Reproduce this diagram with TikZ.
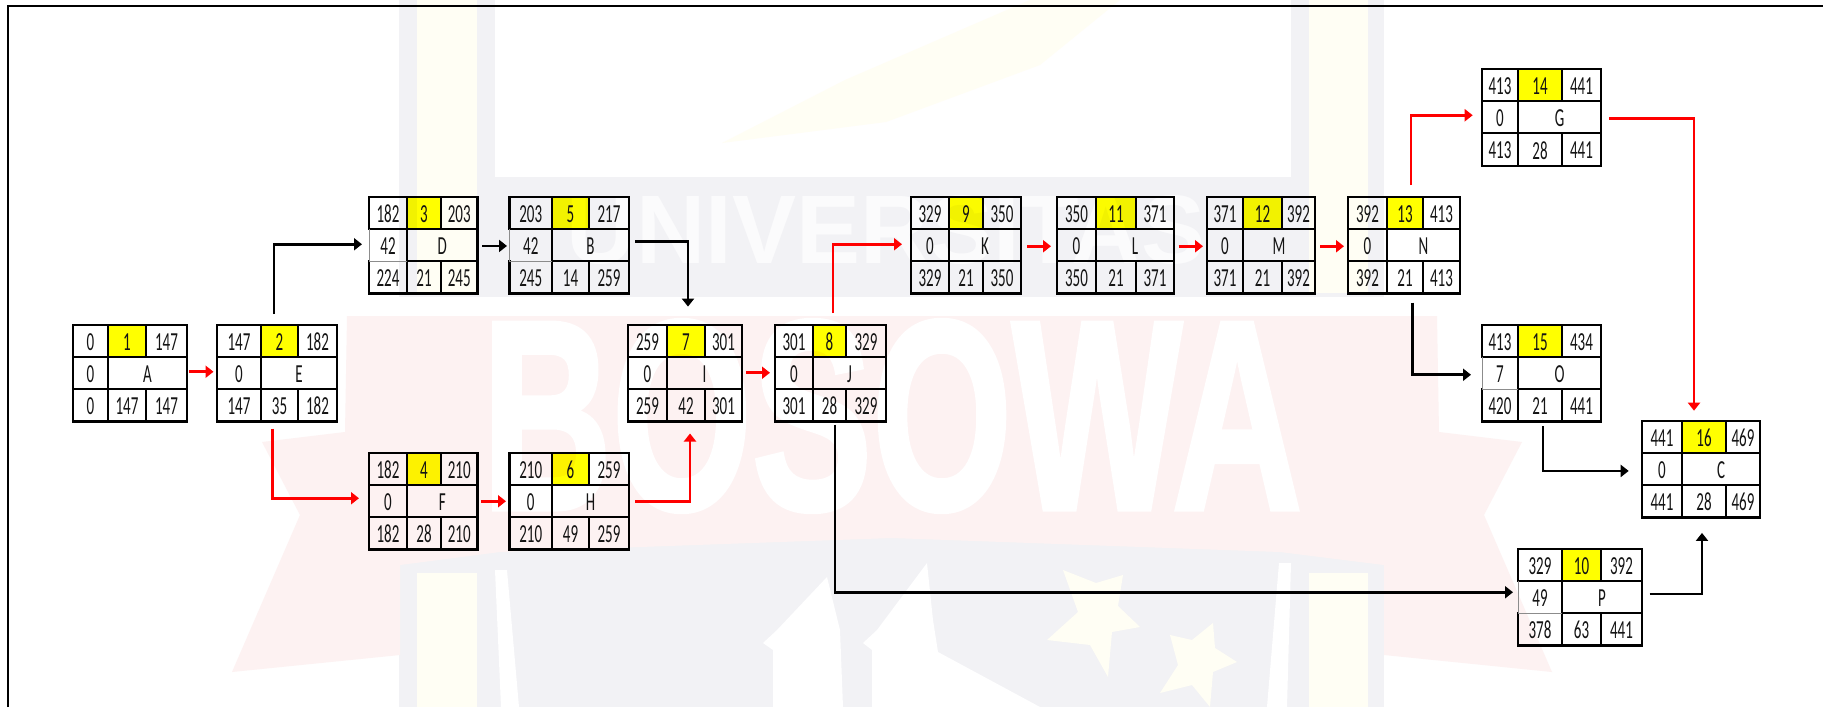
\documentclass[tikz,border=0pt]{standalone}
\usepackage{fontspec}
\setmainfont{Carlito}
\newfontfamily\wmfont[BoldFeatures={FakeBold=2}]{Liberation Sans}
\newfontfamily\wmplain{Liberation Sans Bold}
\usetikzlibrary{arrows.meta,calc}
\definecolor{wmgray}{HTML}{F2F2F5}
\definecolor{wmpink}{HTML}{FDF2F2}
\definecolor{wmyellow}{HTML}{FFFEF4}
\definecolor{wmletter}{HTML}{FBFBFC}
\definecolor{ink}{HTML}{141414}
\definecolor{arrowred}{RGB}{255,0,0}
\definecolor{cellyellow}{RGB}{255,255,0}
\newcommand\celltext[1]{\scalebox{1}[1.733]{#1}}
\tikzset{
  boxframe/.style={rectangle,inner sep=0pt,outer sep=0pt},
  cell/.style={inner sep=0pt,outer sep=0pt,text=ink,font=\fontsize{15}{15}\selectfont},
  rule/.style={draw=black,line width=2.1pt,line cap=rect},
  slackrule/.style={draw=black!45,line width=0.7pt},
  redlink/.style={draw=arrowred,line width=2.6pt,-{Triangle[length=8pt,width=12pt]}},
  blacklink/.style={draw=black,line width=2.6pt,-{Triangle[length=8pt,width=12pt]}},
  wmtext/.style={inner sep=0pt,outer sep=0pt,text=white},
}
% name, x0,x1,x2,x3, y0 ; then es,id,ef,slack,label,ls,dur,lf,flag
\newcommand\actbox[6]{%
  \def\boxname{#1}\def\xa{#2}\def\xb{#3}\def\xc{#4}\def\xd{#5}\def\ya{#6}%
  \pgfmathsetmacro\yb{#6+32}\pgfmathsetmacro\yc{#6+64}\pgfmathsetmacro\yd{#6+96.5}%
  \actboxrest}
\newcommand\actboxrest[9]{%
  \fill[cellyellow,blend mode=multiply] (\xb,\ya) rectangle (\xc,\yb);
  \node[boxframe,minimum width={(\xd-\xa)*1pt},minimum height={96.5pt}] (\boxname) at ({(\xa+\xd)/2},{\ya+48.25}) {};
  \draw[rule] (\xa,\yb) -- (\xa,\ya) -- (\xd,\ya) -- (\xd,\yd) -- (\xa,\yd) -- (\xa,\yc);
  \draw[rule] (\xa,\yb) -- (\xd,\yb);
  \draw[rule] (\xb,\ya) -- (\xb,\yb);
  \draw[rule] (\xc,\ya) -- (\xc,\yb);
  \draw[rule] (\xb,\yc) -- (\xd,\yc);
  \draw[rule] (\xb,\yb) -- (\xb,\yd);
  \draw[rule] (\xc,\yc) -- (\xc,\yd);
  \ifnum#9=1
    \draw[slackrule] (\xa,\yb) -- (\xa,\yc) -- (\xb,\yc);
  \else
    \draw[rule] (\xa,\yb) -- (\xa,\yc) -- (\xb,\yc);
  \fi
  \node[cell] (\boxname-es) at ({(\xa+\xb)/2},{\ya+17}) {\celltext{#1}};
  \node[cell] (\boxname-id) at ({(\xb+\xc)/2},{\ya+17}) {\celltext{#2}};
  \node[cell] (\boxname-ef) at ({(\xc+\xd)/2},{\ya+17}) {\celltext{#3}};
  \node[cell] (\boxname-sl) at ({(\xa+\xb)/2},{\yb+17}) {\celltext{#4}};
  \node[cell] (\boxname-nm) at ({(\xb+\xd)/2},{\yb+17}) {\celltext{#5}};
  \node[cell] (\boxname-ls) at ({(\xa+\xb)/2},{\yc+17}) {\celltext{#6}};
  \node[cell] (\boxname-du) at ({(\xb+\xc)/2},{\yc+17}) {\celltext{#7}};
  \node[cell] (\boxname-lf) at ({(\xc+\xd)/2},{\yc+17}) {\celltext{#8}};
}
\begin{document}
\begin{tikzpicture}[x=1pt,y=-1pt]
\useasboundingbox (0,0) rectangle (1823,707);
\fill[white] (0,0) rectangle (1823,707);
% --- faint watermark
\fill[wmgray] (399,0) rectangle (1384,707);
\fill[white] (495,0) rectangle (1291,177);
\fill[wmyellow] (417,0) rectangle (477,293);
\fill[wmyellow] (1309,0) rectangle (1368,293);
\fill[wmyellow] (417,573) rectangle (477,707);
\fill[wmyellow] (1309,573) rectangle (1368,707);
\fill[wmyellow] (722,143) -- (845,80) -- (1030,0) -- (1120,0) -- (1040,65) -- (886,122) -- cycle;
\fill[white] (316,297) rectangle (1468,330);
\fill[wmpink] (347,316) -- (1437,316) -- (1439,432) -- (1522,442) -- (1484,515) -- (1552,672) -- (1384,655) -- (1384,565) -- (1280,552) -- (892,538) -- (500,552) -- (400,565) -- (400,655) -- (232,672) -- (300,515) -- (262,442) -- (345,432) -- cycle;
\fill[white] (495,570) -- (507,570) -- (519,707) -- (501,707) -- cycle;
\fill[white] (1279,563) -- (1291,563) -- (1287,707) -- (1267,707) -- cycle;
\fill[white] (827,577) -- (777,630) -- (763,643) -- (773,650) -- (773,707) -- (843,707) -- (840,630) -- cycle;
\fill[white] (927,563) -- (877,630) -- (863,643) -- (872,650) -- (872,707) -- (1040,707) -- (938,652) -- (933,620) -- cycle;
\fill[wmyellow] (1063,570) -- (1096,583) -- (1123,575) -- (1118,606) -- (1140,627) -- (1112,632) -- (1108,677) -- (1090,645) -- (1047,640) -- (1078,612) -- cycle;
\fill[wmyellow] (1170,635) -- (1192,640) -- (1213,623) -- (1215,648) -- (1237,662) -- (1213,672) -- (1210,707) -- (1192,685) -- (1160,693) -- (1178,665) -- cycle;
\node[wmtext,text=wmletter] (wmuniv) at (886,230) {\resizebox{638pt}{68pt}{\wmplain UNIVERSITAS}};
\node[wmtext] (wmbosowa) at (892,416) {\resizebox{819pt}{188pt}{\wmfont\bfseries BOSOWA}};
% --- page frame
\draw[black,line width=2.2pt] (8,707) -- (8,6) -- (1823,6);
% --- activity boxes
\actbox{A}{73}{108}{146}{187}{325}{0}{1}{147}{0}{A}{0}{147}{147}{0}
\actbox{E}{217}{261}{298}{337}{325}{147}{2}{182}{0}{E}{147}{35}{182}{0}
\actbox{D}{369}{407}{441}{477.5}{197}{182}{3}{203}{42}{D}{224}{21}{245}{1}
\actbox{B}{509.5}{552}{589}{629}{197}{203}{5}{217}{42}{B}{245}{14}{259}{1}
\actbox{F}{369}{407}{441}{477.5}{453}{182}{4}{210}{0}{F}{182}{28}{210}{0}
\actbox{H}{509.5}{552}{589}{629}{453}{210}{6}{259}{0}{H}{210}{49}{259}{0}
\actbox{I}{628}{667}{705}{742}{325}{259}{7}{301}{0}{I}{259}{42}{301}{0}
\actbox{J}{775}{813}{846}{886}{325}{301}{8}{329}{0}{J}{301}{28}{329}{0}
\actbox{K}{911}{949}{983}{1021}{197}{329}{9}{350}{0}{K}{329}{21}{350}{0}
\actbox{L}{1057}{1096}{1136}{1174}{197}{350}{11}{371}{0}{L}{350}{21}{371}{0}
\actbox{M}{1207}{1243}{1282}{1315}{197}{371}{12}{392}{0}{M}{371}{21}{392}{0}
\actbox{N}{1348}{1387}{1423}{1460}{197}{392}{13}{413}{0}{N}{392}{21}{413}{0}
\actbox{G}{1482}{1518}{1562}{1601}{69.3}{413}{14}{441}{0}{G}{413}{28}{441}{0}
\actbox{O}{1482}{1518}{1562}{1601}{325}{413}{15}{434}{7}{O}{420}{21}{441}{1}
\actbox{C}{1642}{1682}{1726}{1760}{421}{441}{16}{469}{0}{C}{441}{28}{469}{0}
\actbox{P}{1518}{1562}{1601}{1642}{549}{329}{10}{392}{49}{P}{378}{63}{441}{1}
% --- connectors
\draw[redlink] ($(A.east)+(2,-1.5)$) -- ($(E.west)+(-3.5,-1.5)$);
\draw[blacklink] ($(E.north)+(-3,-11)$) |- ($(D.west)+(-7,-1)$);
\draw[redlink] ($(E.south)+(-4.5,7)$) |- ($(F.west)+(-10,-3)$);
\draw[blacklink] ($(D.east)+(4.5,0.7)$) -- ($(B.west)+(-2.5,0.7)$);
\draw[redlink] ($(F.east)+(3.5,0)$) -- ($(H.west)+(-3.5,0)$);
\draw[blacklink] ($(B.east)+(6,-4)$) -| ($(I.north)+(3,-18.4)$);
\draw[redlink] ($(H.east)+(6,0)$) -| ($(I.south)+(5,12)$);
\draw[redlink] ($(I.east)+(4,-0.5)$) -- ($(J.west)+(-5,-0.5)$);
\draw[redlink] ($(J.north)+(2.5,-12)$) |- ($(K.west)+(-9,-1)$);
\draw[redlink] ($(K.east)+(6,1)$) -- ($(L.west)+(-6,1)$);
\draw[redlink] ($(L.east)+(4.6,1)$) -- ($(M.west)+(-4,1)$);
\draw[redlink] ($(M.east)+(5,1)$) -- ($(N.west)+(-4,1)$);
\draw[blacklink] ($(J.south)+(4.5,3)$) |- ($(P.west)+(-5,-5)$);
\draw[redlink] ($(N.north)+(7,-12)$) |- ($(G.west)+(-9.3,-2.3)$);
\draw[redlink] ($(G.east)+(8,0.7)$) -| ($(C.north)+(-7,-10.3)$);
\draw[blacklink] ($(N.south)+(8.7,9)$) |- ($(O.west)+(-11,1.5)$);
\draw[blacklink] ($(O.south)+(1.5,4.7)$) |- ($(C.west)+(-13.3,1.7)$);
\draw[blacklink] ($(P.east)+(7.7,-3.3)$) -| ($(C.south)+(1,15.4)$);
\end{tikzpicture}
\end{document}
